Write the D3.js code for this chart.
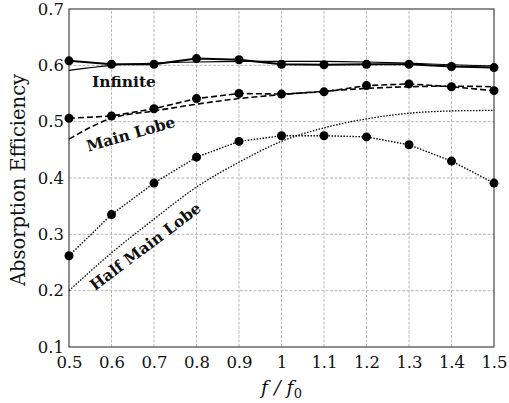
<!DOCTYPE html>
<html>
<head>
<meta charset="utf-8">
<script src="https://cdn.jsdelivr.net/npm/d3@7"></script>
<style>
  body { margin: 0; background: #fff; }
  text { font-family: "DejaVu Serif", serif; }
</style>
</head>
<body>
<div id="chart"></div>
<script>
// x = f/f0
var freqs = [0.5, 0.6, 0.7, 0.8, 0.9, 1.0, 1.1, 1.2, 1.3, 1.4, 1.5];
var xTicks = [0.5, 0.6, 0.7, 0.8, 0.9, 1, 1.1, 1.2, 1.3, 1.4, 1.5];
var yTicks = [0.1, 0.2, 0.3, 0.4, 0.5, 0.6, 0.7];

// measured (with markers)
var infiniteMeas = [0.608, 0.602, 0.602, 0.612, 0.610, 0.602, 0.601, 0.602, 0.602, 0.598, 0.596];
var mainLobeMeas = [0.506, 0.510, 0.523, 0.541, 0.550, 0.549, 0.553, 0.564, 0.567, 0.562, 0.555];
var halfLobeMeas = [0.262, 0.335, 0.391, 0.437, 0.465, 0.475, 0.475, 0.473, 0.459, 0.430, 0.391];

// theory curves (no markers)
var infiniteTheory = [0.591, 0.600, 0.604, 0.606, 0.607, 0.607, 0.607, 0.606, 0.604, 0.601, 0.599];
var mainLobeTheory = [0.469, 0.506, 0.519, 0.531, 0.541, 0.548, 0.554, 0.559, 0.562, 0.563, 0.562];
var halfLobeTheory = [0.200, 0.267, 0.327, 0.384, 0.428, 0.465, 0.489, 0.505, 0.515, 0.519, 0.520];

var labels = ["Infinite", "Main Lobe", "Half Main Lobe"];

var width = 509, height = 403;
var margin = {left: 69, right: 15, top: 9, bottom: 56};

var svg = d3.select("#chart").append("svg")
    .attr("width", width)
    .attr("height", height);

var x = d3.scaleLinear().domain([0.5, 1.5]).range([margin.left, width - margin.right]);
var y = d3.scaleLinear().domain([0.1, 0.7]).range([height - margin.bottom, margin.top]);

// grid
svg.append("g").selectAll("line").data(xTicks.slice(1, -1)).enter().append("line")
    .attr("x1", function(d){ return x(d); })
    .attr("x2", function(d){ return x(d); })
    .attr("y1", y(0.1)).attr("y2", y(0.7))
    .attr("stroke", "#b8b8b8").attr("stroke-width", 1).attr("stroke-dasharray", "3,1.5");
svg.append("g").selectAll("line").data(yTicks.slice(1, -1)).enter().append("line")
    .attr("y1", function(d){ return y(d); })
    .attr("y2", function(d){ return y(d); })
    .attr("x1", x(0.5)).attr("x2", x(1.5))
    .attr("stroke", "#b8b8b8").attr("stroke-width", 1).attr("stroke-dasharray", "3,1.5");

// axes
var xAxis = svg.append("g")
    .attr("transform", "translate(0," + y(0.1) + ")")
    .call(d3.axisBottom(x).tickValues(xTicks).tickSize(0).tickPadding(9).tickFormat(d3.format("")));
var yAxis = svg.append("g")
    .attr("transform", "translate(" + x(0.5) + ",0)")
    .call(d3.axisLeft(y).tickValues(yTicks).tickSize(0).tickPadding(5).tickFormat(d3.format(".1f")));
[xAxis, yAxis].forEach(function(g){
    g.select(".domain").remove();
    g.selectAll("text").attr("font-family", "DejaVu Serif").attr("font-size", 16.5).attr("fill", "#111");
});

// box
svg.append("rect")
    .attr("x", x(0.5)).attr("y", y(0.7))
    .attr("width", x(1.5) - x(0.5)).attr("height", y(0.1) - y(0.7))
    .attr("fill", "none").attr("stroke", "#444").attr("stroke-width", 1.2);

var line = d3.line().x(function(d, i){ return x(freqs[i]); }).y(function(d){ return y(d); });
var smooth = d3.line().curve(d3.curveMonotoneX)
    .x(function(d, i){ return x(freqs[i]); }).y(function(d){ return y(d); });

function drawLine(values, gen, width, dash) {
    svg.append("path").datum(values)
        .attr("d", gen)
        .attr("fill", "none")
        .attr("stroke", "#000")
        .attr("stroke-width", width)
        .attr("stroke-dasharray", dash);
}

drawLine(infiniteTheory, smooth, 1.1, null);
drawLine(mainLobeTheory, smooth, 1.6, "6,3");
drawLine(halfLobeTheory, smooth, 1.3, "1.5,1.5");
drawLine(infiniteMeas, line, 2, null);
drawLine(mainLobeMeas, line, 1.6, "6,3");
drawLine(halfLobeMeas, line, 1.4, "1.5,1.5");

[infiniteMeas, mainLobeMeas, halfLobeMeas].forEach(function(values){
    svg.append("g").selectAll("circle").data(values).enter().append("circle")
        .attr("cx", function(d, i){ return x(freqs[i]); })
        .attr("cy", function(d){ return y(d); })
        .attr("r", 4.5)
        .attr("fill", "#000");
});

// curve labels
var labelX = [0.554, 0.545, 0.561];
var labelY = [0.562, 0.4465, 0.199];
var labelAngle = [0, -16, -37];
labels.forEach(function(t, i){
    svg.append("text")
        .attr("transform", "translate(" + x(labelX[i]) + "," + y(labelY[i]) + ") rotate(" + labelAngle[i] + ")")
        .attr("font-size", 15.5)
        .attr("font-weight", "bold")
        .attr("fill", "#111")
        .text(t);
});

// axis titles
svg.append("text")
    .attr("transform", "translate(25," + ((y(0.1) + y(0.7)) / 2 + 2) + ") rotate(-90)")
    .attr("text-anchor", "middle")
    .attr("font-size", 19.5)
    .attr("fill", "#111")
    .text("Absorption Efficiency");

var xl = svg.append("text")
    .attr("x", x(1))
    .attr("y", 394)
    .attr("text-anchor", "middle")
    .attr("font-size", 19)
    .attr("font-style", "italic")
    .attr("fill", "#111");
xl.append("tspan").text("f / f");
xl.append("tspan").attr("font-size", 13).attr("font-style", "normal").attr("dy", 4).text("0");
</script>
</body>
</html>
